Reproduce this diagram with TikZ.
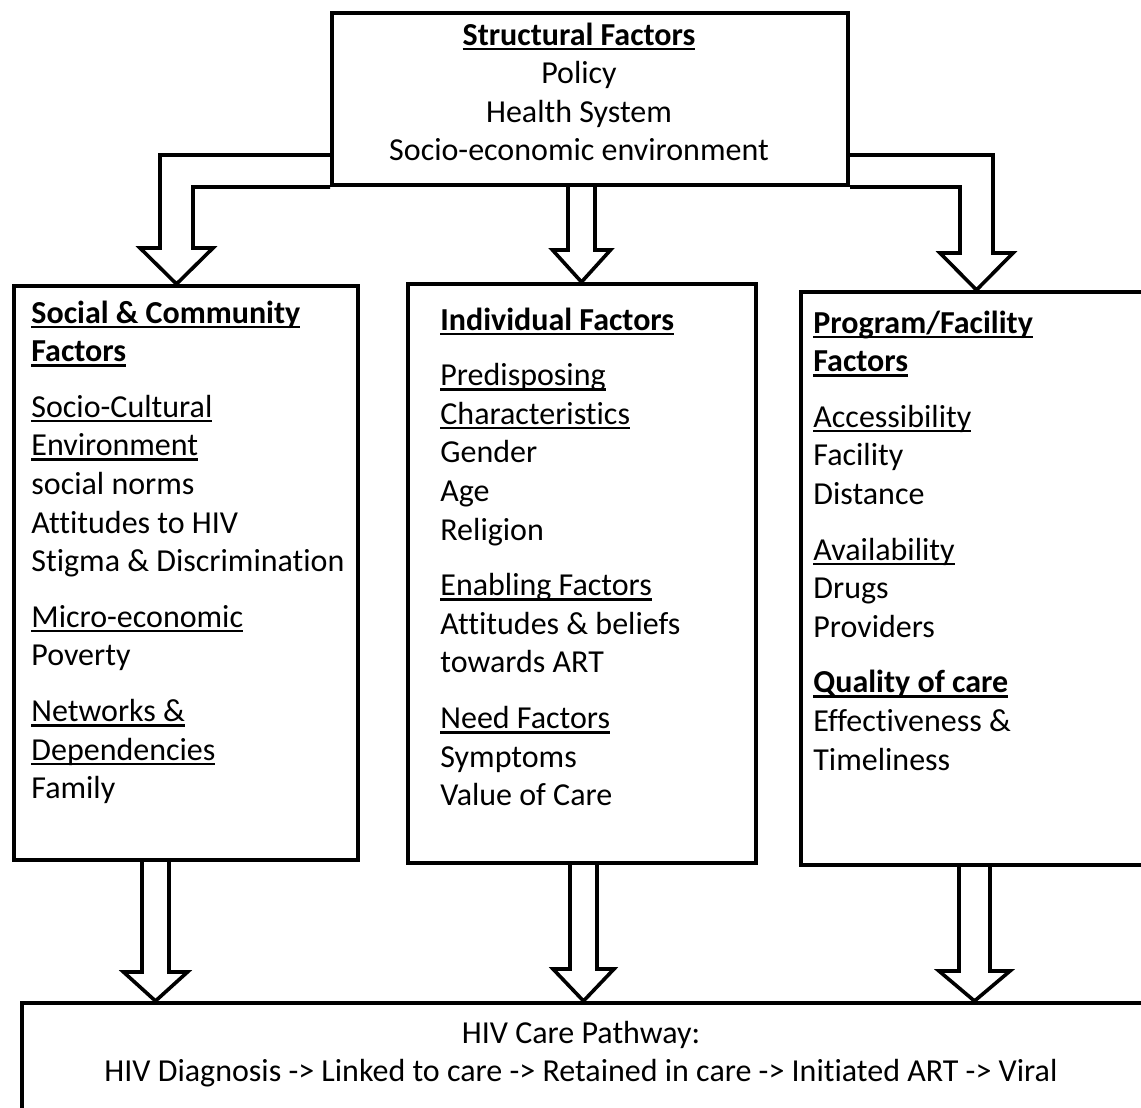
\documentclass[tikz,border=0pt]{standalone}
\usepackage{fontspec}
\setmainfont{Carlito}[Ligatures=NoCommon]
\usetikzlibrary{calc}
\pgfdeclarelayer{background}
\pgfsetlayers{background,main}
\tikzstyle{blockarrow} = [draw,line width=1.8pt,fill=white,line join=miter]

\newcommand{\boxfont}{\fontsize{16}{19.3}\selectfont}
\newcommand{\undl}[1]{\leavevmode\setbox0\hbox{#1}\rlap{\rule[-2.6pt]{\wd0}{1.3pt}}\box0}
% from, to, centre x, half shaft, half head, head length
\newcommand{\downblock}[6]{%
  \draw[blockarrow] (#3-#4,0 |- #1) -- ($(#3-#4,0 |- #2)+(0,-#6)$) -- ($(#3-#5,0 |- #2)+(0,-#6)$)
    -- (#3,0 |- #2) -- ($(#3+#5,0 |- #2)+(0,-#6)$) -- ($(#3+#4,0 |- #2)+(0,-#6)$) -- (#3+#4,0 |- #1);}

\begin{document}
\begin{tikzpicture}[x=0.5pt,y=-0.5pt,
  box/.style={draw,line width=2pt,inner sep=0pt,anchor=north west},
  txt/.style={inner sep=0pt,anchor=base west,align=flush left,text width=180pt,font=\boxfont}]

  \path[use as bounding box] (0,0) rectangle (1141,1108);
  \clip (0,0) rectangle (1141,1108);

  \node[box,minimum width=258pt,minimum height=86pt] (top) at (330,11) {};
  \node[box,minimum width=172pt,minimum height=287pt] (social) at (12,284) {};
  \node[box,minimum width=174pt,minimum height=289.5pt] (indiv) at (406,282) {};
  \node[box,minimum width=180pt,minimum height=286.5pt] (program) at (799,290) {};
  \node[box,minimum width=570pt,minimum height=70pt] (pathway) at (20,1001) {};

  \node[txt,align=flush center,anchor=base,text width=250pt] (toptext) at (579,45)
    {\undl{\textbf{Structural Factors}}\\ Policy\\ Health System\\ Socio-economic environment};

  \node[txt] (socialtext) at (31,323)
    {\undl{\textbf{Social \& Community}}\\ \undl{\textbf{Factors}}\\[8.5pt]
     \undl{Socio-Cultural}\\ \undl{Environment}\\ social norms\\ Attitudes to HIV\\
     Stigma \& Discrimination\\[8.5pt]
     \undl{Micro-economic}\\ Poverty\\[8.5pt]
     \undl{Networks \&}\\ \undl{Dependencies}\\ Family};

  \node[txt] (indivtext) at (440,330)
    {\undl{\textbf{Individual Factors}}\\[8.5pt]
     \undl{Predisposing}\\ \undl{Characteristics}\\ Gender\\ Age\\ Religion\\[8.5pt]
     \undl{Enabling Factors}\\ Attitudes \& beliefs\\ towards ART\\[8.5pt]
     \undl{Need Factors}\\ Symptoms\\ Value of Care};

  \node[txt] (programtext) at (813,333)
    {\undl{\textbf{Program/Facility}}\\ \undl{\textbf{Factors}}\\[8.5pt]
     \undl{Accessibility}\\ Facility\\ Distance\\[8.5pt]
     \undl{Availability}\\ Drugs\\ Providers\\[8.5pt]
     \undl{\textbf{Quality of care}}\\ Effectiveness \&\\ Timeliness};

  \node[txt,align=flush center,anchor=base,text width=520pt] (pathtext) at (581,1043)
    {HIV Care Pathway:\\ HIV Diagnosis -> Linked to care -> Retained in care -> Initiated ART -> Viral};

  \begin{pgfonlayer}{background}
    \fill[white] (0,0) rectangle (1141,1108);
    \draw[blockarrow] ($(top.south west)+(0,-32)$) -| ($(160,0 |- social.north)+(0,-36)$)
      -- ($(140,0 |- social.north)+(0,-36)$) -- (176.5,0 |- social.north)
      -- ($(213,0 |- social.north)+(0,-36)$) -- ($(193,0 |- social.north)+(0,-36)$) |- (top.south west);
    \draw[blockarrow] ($(top.south east)+(0,-32)$) -| ($(993,0 |- program.north)+(0,-37)$)
      -- ($(1013,0 |- program.north)+(0,-37)$) -- (976.5,0 |- program.north)
      -- ($(940,0 |- program.north)+(0,-37)$) -- ($(960,0 |- program.north)+(0,-37)$) |- (top.south east);
    \downblock{top.south}{indiv.north}{581.5}{13.5}{29}{32}
    \downblock{social.south}{pathway.north}{155.5}{13.5}{32}{29}
    \downblock{indiv.south}{pathway.north}{583.5}{13.5}{30.5}{32}
    \downblock{program.south}{pathway.north}{974.5}{15.5}{35.5}{30}
  \end{pgfonlayer}

\end{tikzpicture}
\end{document}
